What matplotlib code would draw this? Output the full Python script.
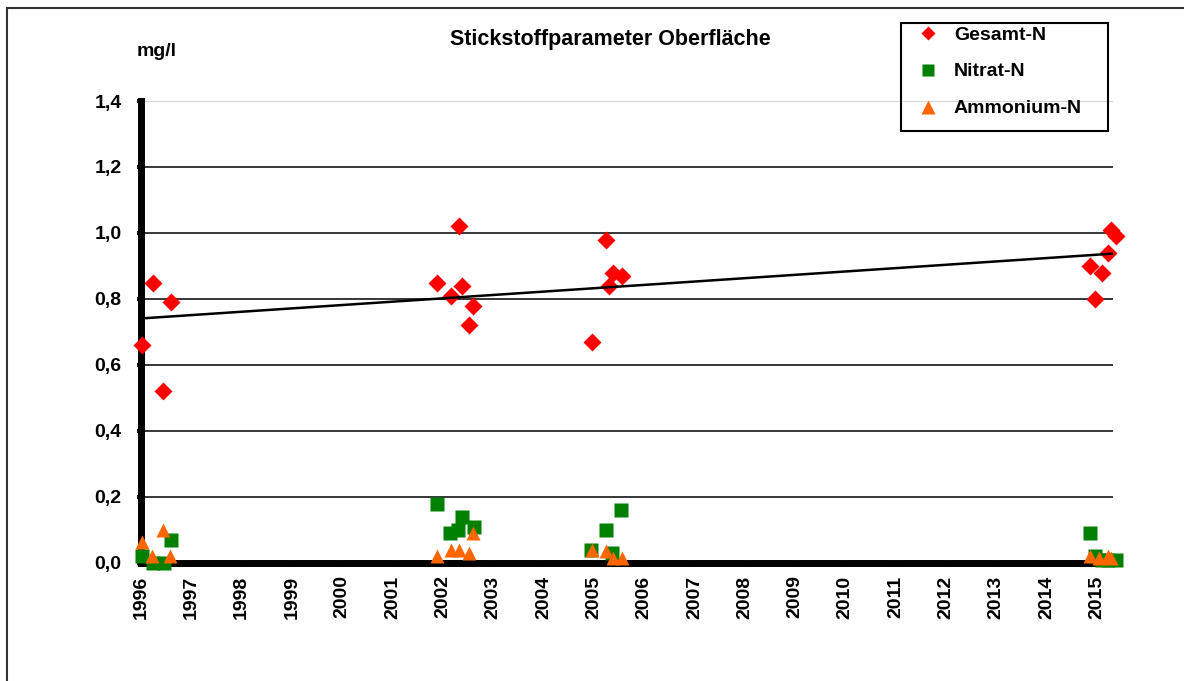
import numpy as np
import matplotlib
matplotlib.use("Agg")
import matplotlib.pyplot as plt
from matplotlib.lines import Line2D
from matplotlib.patches import Rectangle

plt.rcParams['font.family'] = ['Liberation Sans', 'DejaVu Sans']
plt.rcParams['font.weight'] = 'bold'

# Messwerte (Jahr als Dezimalzahl, mg/l)
gesamt_x = [1996.02, 1996.24, 1996.44, 1996.60,
            2001.88, 2002.16, 2002.32, 2002.39, 2002.51, 2002.59,
            2004.96, 2005.24, 2005.31, 2005.39, 2005.57,
            2014.87, 2014.97, 2015.11, 2015.22, 2015.29, 2015.37]
gesamt_y = [0.66, 0.85, 0.52, 0.79,
            0.85, 0.81, 1.02, 0.84, 0.72, 0.78,
            0.67, 0.98, 0.84, 0.88, 0.87,
            0.90, 0.80, 0.88, 0.94, 1.01, 0.99]

nitrat_x = [1996.02, 1996.24, 1996.46, 1996.60,
            2001.88, 2002.14, 2002.30, 2002.39, 2002.62,
            2004.95, 2005.24, 2005.36, 2005.54,
            2014.87, 2014.97, 2015.11, 2015.22, 2015.38]
nitrat_y = [0.02, 0.00, 0.00, 0.07,
            0.18, 0.09, 0.10, 0.14, 0.11,
            0.04, 0.10, 0.03, 0.16,
            0.09, 0.02, 0.01, 0.01, 0.01]

ammon_x = [1996.02, 1996.22, 1996.44, 1996.58,
           2001.88, 2002.16, 2002.32, 2002.51, 2002.59,
           2004.96, 2005.24, 2005.39, 2005.57,
           2014.87, 2015.05, 2015.22, 2015.29]
ammon_y = [0.065, 0.02, 0.10, 0.02,
           0.02, 0.04, 0.04, 0.03, 0.09,
           0.04, 0.035, 0.015, 0.015,
           0.02, 0.015, 0.02, 0.015]

labels = ['Gesamt-N', 'Nitrat-N', 'Ammonium-N']
years = list(range(1996, 2016))
yticks = [0.0, 0.2, 0.4, 0.6, 0.8, 1.0, 1.2, 1.4]
x_end = 2015.32

W, H = 1184, 681
fig = plt.figure(figsize=(W / 100, H / 100), dpi=100)
ax = fig.add_axes([141/W, 118/H, 972/W, 462/H])

ax.plot(gesamt_x, gesamt_y, 'D', color='#FF0000', ms=9, mec='none',
        zorder=3, clip_on=False)
ax.plot(nitrat_x, nitrat_y, 's', color='#008000', ms=10, mec='none',
        zorder=4, clip_on=False)
ax.plot(ammon_x, ammon_y, '^', color='#FF6600', ms=10, mec='none',
        zorder=5, clip_on=False)

# lineare Trendlinie Gesamt-N
k, d = np.polyfit(gesamt_x, gesamt_y, 1)
tx = np.array([1996, x_end])
ax.plot(tx, k * tx + d, color='black', lw=1.8, zorder=6)

ax.set_xlim(1996, x_end)
ax.set_ylim(0, 1.4)
ax.set_yticks(yticks)
ax.set_yticklabels([f"{v:.1f}".replace('.', ',') for v in yticks])
ax.set_xticks(years)
ax.set_xticklabels([str(y) for y in years], rotation=90)

ax.tick_params(axis='y', direction='out', length=3, width=3, pad=11, labelsize=14)
ax.tick_params(axis='x', direction='out', length=3, width=3, pad=6, labelsize=14)

ax.grid(axis='y', color='black', lw=1.1)
ax.yaxis.get_gridlines()[-1].set_color('#c8c8c8')
ax.set_axisbelow(True)

for s in ['top', 'right']:
    ax.spines[s].set_visible(False)
ax.spines['left'].set_linewidth(5)
ax.spines['bottom'].set_linewidth(5)

fig.text(610/W, 1 - 39/H, 'Stickstoffparameter Oberfläche',
         ha='center', va='center', fontsize=15.5, fontweight='bold')
fig.text(157/W, 1 - 52/H, 'mg/l', ha='center', va='center',
         fontsize=14, fontweight='bold')

# Legende
handles = [Line2D([], [], ls='none', marker='D', color='#FF0000', ms=6.8, mec='none'),
           Line2D([], [], ls='none', marker='s', color='#008000', ms=9, mec='none'),
           Line2D([], [], ls='none', marker='^', color='#FF6600', ms=9.5, mec='none')]
leg = fig.legend(handles, labels, loc='upper left',
                 bbox_to_anchor=(918/W, 1 - 26/H), bbox_transform=fig.transFigure,
                 frameon=False, fontsize=14, borderpad=0, labelspacing=0.99,
                 handletextpad=0.84, handlelength=1.0, borderaxespad=0)
fig.add_artist(Rectangle((901/W, 1 - 131/H), 207/W, 108/H, transform=fig.transFigure,
                         fill=False, edgecolor='black', lw=1.5))

# Rahmen um das Diagramm
fig.add_artist(Line2D([7/W, 1], [1 - 8/H, 1 - 8/H], color='#333333', lw=1.5))
fig.add_artist(Line2D([7/W, 7/W], [0, 1 - 8/H], color='#333333', lw=1.5))

fig.savefig('out.png', dpi=100)
